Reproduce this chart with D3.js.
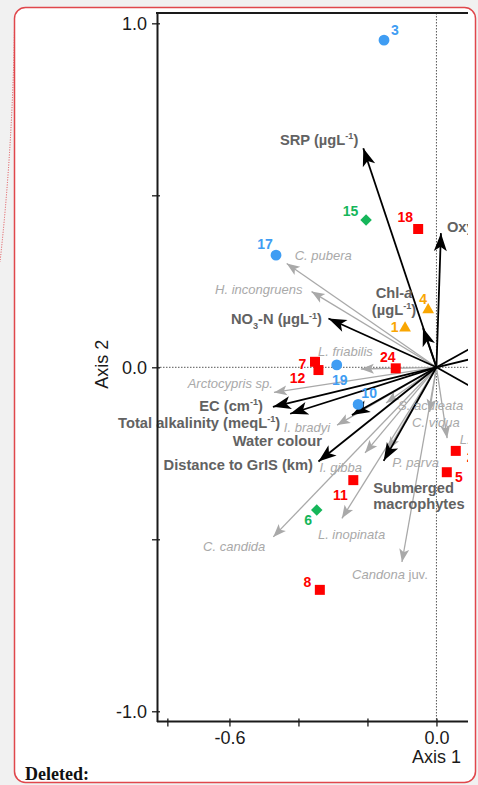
<!DOCTYPE html>
<html>
<head>
<meta charset="utf-8">
<script src="https://cdn.jsdelivr.net/npm/d3@7"></script>
<style>
  html, body { margin: 0; padding: 0; background: #f1f1f1; }
  svg { display: block; }
</style>
</head>
<body>
<div id="wrapper"></div>
<script>
// 1. Data (ordination scores)

// sites
const siteIds   = ["3", "15", "18", "17", "4", "1", "24", "7", "12", "19", "10", "11", "6", "8", "5", "2"];
const siteAxis1 = [-0.152, -0.204, -0.053, -0.465, -0.024, -0.091, -0.118, -0.352, -0.342, -0.289, -0.227, -0.241, -0.347, -0.338, 0.030, 0.056];
const siteAxis2 = [0.951, 0.428, 0.402, 0.326, 0.167, 0.114, -0.003, 0.016, -0.008, 0.007, -0.108, -0.328, -0.415, -0.647, -0.305, -0.243];
const siteGroup = ["B", "C", "A", "B", "D", "D", "A", "A", "A", "B", "B", "A", "C", "A", "A", "A"];

// environmental variables (black arrows)
const envNames = ["SRP (µgL^{-1})", "Oxygen", "Chl-*a*\n(µgL^{-1})", "NO_{3}-N (µgL^{-1})", "EC (cm^{-1})",
                  "Total alkalinity (meqL^{-1})", "Water colour", "Distance to GrIS (km)", "Submerged\nmacrophytes",
                  "", "", ""];
const envAxis1 = [-0.212, 0.013, -0.039, -0.313, -0.474, -0.424, -0.245, -0.342, -0.153, 0.25, 0.25, 0.25];
const envAxis2 = [0.637, 0.390, 0.114, 0.142, -0.115, -0.135, -0.139, -0.274, -0.272, 0.14, 0.06, -0.14];

// species (grey arrows)
const sppNames = ["*C. pubera*", "*H. incongruens*", "*L. friabilis*", "*Arctocypris sp.*", "*I. bradyi*",
                  "*S. aculeata*", "*C. vidua*", "*L.*", "*I. gibba*", "*P. parva*", "*C. candida*",
                  "*L. inopinata*", "*Candona* juv."];
const sppAxis1 = [-0.434, -0.362, -0.219, -0.471, -0.288, -0.146, -0.020, 0.031, -0.207, -0.140, -0.473, -0.274, -0.100];
const sppAxis2 = [0.302, 0.220, -0.005, -0.073, -0.168, -0.104, -0.130, -0.206, -0.249, -0.240, -0.493, -0.439, -0.566];

// ticks
const xTicks = [-0.78, -0.6, -0.4, -0.2, 0.0];
const xTickLabels = ["", "-0.6", "", "", "0.0"];
const yTicks = [1.0, 0.5, 0.0, -0.5, -1.0];
const yTickLabels = ["1.0", "", "0.0", "", "-1.0"];

// 2. Layout

const width = 478;
const height = 785;
const plot = { left: 157, right: 467.5, top: 13, bottom: 721.6, clipRight: 468 };
const font = "'Liberation Sans', Arial, Helvetica, sans-serif";

// label placement relative to arrow tip / point (px)
const envLabelPos = {
  "SRP (µgL^{-1})": { dx: -5, dy: -3, anchor: "end" },
  "Oxygen": { dx: 6, dy: -1, anchor: "start" },
  "Chl-*a*\n(µgL^{-1})": { dx: -29, dy: -30, anchor: "middle" },
  "NO_{3}-N (µgL^{-1})": { dx: -6.5, dy: 6, anchor: "end" },
  "EC (cm^{-1})": { dx: -10, dy: 4, anchor: "end" },
  "Total alkalinity (meqL^{-1})": { dx: -10, dy: 14.5, anchor: "end" },
  "Water colour": { dx: -30, dy: 31, anchor: "end" },
  "Distance to GrIS (km)": { dx: -5.5, dy: 8.5, anchor: "end" },
  "Submerged\nmacrophytes": { dx: -10.5, dy: 32, anchor: "start" }
};
const sppLabelPos = {
  "*C. pubera*": { dx: 8, dy: -3.5, anchor: "start" },
  "*H. incongruens*": { dx: -9, dy: 2.5, anchor: "end" },
  "*L. friabilis*": { dx: -15.5, dy: -13.5, anchor: "middle" },
  "*Arctocypris sp.*": { dx: -1, dy: -4, anchor: "end" },
  "*I. bradyi*": { dx: -7, dy: 6.5, anchor: "end" },
  "*S. aculeata*": { dx: 12, dy: 6.5, anchor: "start" },
  "*C. vidua*": { dx: -17.5, dy: 14.5, anchor: "start" },
  "*L.*": { dx: 12.7, dy: 6.2, anchor: "start" },
  "*I. gibba*": { dx: -3, dy: 19.5, anchor: "end" },
  "*P. parva*": { dx: 4, dy: 17.5, anchor: "start" },
  "*C. candida*": { dx: -8, dy: 14.5, anchor: "end" },
  "*L. inopinata*": { dx: -24, dy: 20.5, anchor: "start" },
  "*Candona* juv.": { dx: -12, dy: 17.5, anchor: "middle" }
};
const siteLabelPos = {
  "3": [11, -10], "15": [-15.5, -9.5], "18": [-13, -12.5], "17": [-11, -11], "4": [-5, -11],
  "1": [-10.5, -1.5], "24": [-8, -11.5], "7": [-12.5, 2.3], "12": [-21, 8], "19": [3, 15],
  "10": [11, -11], "11": [-13, 15], "6": [-8.5, 10], "8": [-12.5, -8], "5": [12, 5], "2": [15, 6]
};

const groupColor = { A: "#ff0000", B: "#3f9df3", C: "#15b65a", D: "#f9a602" };
const groupSymbol = { A: d3.symbolSquare, B: d3.symbolCircle, C: d3.symbolSquare, D: d3.symbolTriangle };
const groupSize = { A: 100, B: 92, C: 66, D: 60 };
const groupRotate = { A: 0, B: 0, C: 45, D: 0 };

// 3. Scales

const xScale = d3.scaleLinear().domain([-0.81, 0.09]).range([plot.left, plot.right]);
const yScale = d3.scaleLinear().domain([1.03, -1.03]).range([plot.top, plot.bottom]);

// 4. Canvas

const svg = d3.select("#wrapper").append("svg")
  .attr("width", width)
  .attr("height", height);

const defs = svg.append("defs");
defs.append("clipPath").attr("id", "clip")
  .append("rect").attr("x", 0).attr("y", 0).attr("width", plot.clipRight).attr("height", height);

function addHead(id, len, half, notch, color) {
  defs.append("marker")
    .attr("id", id)
    .attr("viewBox", `${-len - 2} ${-half - 2} ${len + 4} ${2 * half + 4}`)
    .attr("refX", 0).attr("refY", 0)
    .attr("markerUnits", "userSpaceOnUse")
    .attr("markerWidth", len + 4).attr("markerHeight", 2 * half + 4)
    .attr("orient", "auto")
    .append("path")
    .attr("d", `M0,0L${-len},${-half}L${-len + notch},0L${-len},${half}Z`)
    .attr("fill", color);
}
addHead("headBlack", 18, 6.5, 4.5, "#000");
addHead("headGrey", 13, 5, 3, "#a9a9a9");

// comment box
svg.append("path")
  .attr("d", "M14.5,27 Q12.5,150 0,262")
  .attr("fill", "none")
  .attr("stroke", "#e0474c")
  .attr("stroke-width", 1)
  .attr("stroke-dasharray", "1,1.5");

svg.append("rect")
  .attr("x", 14.5).attr("y", 7.5)
  .attr("width", 461).attr("height", 775)
  .attr("rx", 11)
  .attr("fill", "#fff")
  .attr("stroke", "#e0474c")
  .attr("stroke-width", 1.5);

svg.append("text")
  .attr("x", 25).attr("y", 780)
  .attr("font-family", "'Liberation Serif', 'Times New Roman', serif")
  .attr("font-weight", "bold")
  .attr("font-size", 18)
  .attr("fill", "#111")
  .text("Deleted:");

const bounds = svg.append("g").attr("clip-path", "url(#clip)");

// rich text: ^{sup} _{sub} *italic* and \n line breaks
function richText(textSel, str, size, lineGap) {
  const x = +textSel.attr("x");
  let shift = 0;
  str.split("\n").forEach((line, li) => {
    const parts = line.split(/(\^\{[^}]*\}|_\{[^}]*\}|\*[^*]*\*)/).filter(p => p !== "");
    parts.forEach((p, pi) => {
      let txt = p, target = 0, fs = size, italic = false;
      if (p.startsWith("^{")) { txt = p.slice(2, -1); target = -0.4 * size; fs = 0.62 * size; }
      else if (p.startsWith("_{")) { txt = p.slice(2, -1); target = 0.28 * size; fs = 0.62 * size; }
      else if (p.startsWith("*")) { txt = p.slice(1, -1); italic = true; }
      const t = textSel.append("tspan").text(txt).attr("font-size", fs);
      if (italic) t.attr("font-style", "italic");
      let dy = target - shift;
      if (pi === 0) {
        t.attr("x", x);
        if (li > 0) dy += lineGap;
      }
      if (dy !== 0) t.attr("dy", dy);
      shift = target;
    });
  });
}

// 5. Zero lines

bounds.append("line")
  .attr("x1", plot.left).attr("x2", plot.clipRight)
  .attr("y1", yScale(0)).attr("y2", yScale(0))
  .attr("stroke", "#444").attr("stroke-width", 0.9).attr("stroke-dasharray", "1.5,1.5");
bounds.append("line")
  .attr("x1", xScale(0)).attr("x2", xScale(0))
  .attr("y1", plot.top).attr("y2", plot.bottom)
  .attr("stroke", "#444").attr("stroke-width", 0.9).attr("stroke-dasharray", "1.5,1.5");

// 6. Species arrows

const spp = sppNames.map((name, i) => ({ name, x: sppAxis1[i], y: sppAxis2[i] }));

bounds.append("g").selectAll("line")
  .data(spp)
  .join("line")
  .attr("x1", xScale(0)).attr("y1", yScale(0))
  .attr("x2", d => xScale(d.x)).attr("y2", d => yScale(d.y))
  .attr("stroke", "#a9a9a9")
  .attr("stroke-width", 1.3)
  .attr("marker-end", "url(#headGrey)");

// 7. Environmental arrows

const env = envNames.map((name, i) => ({ name, x: envAxis1[i], y: envAxis2[i] }));

bounds.append("g").selectAll("line")
  .data(env)
  .join("line")
  .attr("x1", xScale(0)).attr("y1", yScale(0))
  .attr("x2", d => xScale(d.x)).attr("y2", d => yScale(d.y))
  .attr("stroke", "#000")
  .attr("stroke-width", 1.8)
  .attr("marker-end", "url(#headBlack)");

// 8. Sites

const sites = siteIds.map((id, i) => ({ id, x: siteAxis1[i], y: siteAxis2[i], group: siteGroup[i] }));

bounds.append("g").selectAll("path")
  .data(sites)
  .join("path")
  .attr("transform", d => `translate(${xScale(d.x)},${yScale(d.y)}) rotate(${groupRotate[d.group]})`)
  .attr("d", d => d3.symbol().type(groupSymbol[d.group]).size(groupSize[d.group])())
  .attr("fill", d => groupColor[d.group]);

// 9. Labels

const sppLabels = bounds.append("g")
  .attr("font-family", font)
  .attr("fill", "#a9a9a9");
spp.forEach(d => {
  const p = sppLabelPos[d.name];
  const t = sppLabels.append("text")
    .attr("x", xScale(d.x) + p.dx)
    .attr("y", yScale(d.y) + p.dy)
    .attr("text-anchor", p.anchor);
  richText(t, d.name, 13, 15);
});

const envLabels = bounds.append("g")
  .attr("font-family", font)
  .attr("font-weight", "bold")
  .attr("fill", "#626262");
env.filter(d => d.name !== "").forEach(d => {
  const p = envLabelPos[d.name];
  const t = envLabels.append("text")
    .attr("x", xScale(d.x) + p.dx)
    .attr("y", yScale(d.y) + p.dy)
    .attr("text-anchor", p.anchor);
  richText(t, d.name, 14.7, 16.5);
});

bounds.append("g")
  .attr("font-family", font)
  .attr("font-weight", "bold")
  .attr("font-size", 14)
  .attr("text-anchor", "middle")
  .selectAll("text")
  .data(sites)
  .join("text")
  .attr("x", d => xScale(d.x) + siteLabelPos[d.id][0])
  .attr("y", d => yScale(d.y) + siteLabelPos[d.id][1] + 5)
  .attr("fill", d => groupColor[d.group])
  .text(d => d.id);

// 10. Axes and frame

const yAxisGenerator = d3.axisLeft(yScale)
  .tickValues(yTicks)
  .tickFormat((d, i) => yTickLabels[i])
  .tickSize(5).tickPadding(5).tickSizeOuter(0);

const xAxisGenerator = d3.axisBottom(xScale)
  .tickValues(xTicks)
  .tickFormat((d, i) => xTickLabels[i])
  .tickSize(5).tickPadding(5).tickSizeOuter(0);

const yAxis = svg.append("g")
  .attr("transform", `translate(${plot.left},0)`)
  .call(yAxisGenerator);
yAxis.selectAll(".tick line").attr("x1", 3);

const xAxis = svg.append("g")
  .attr("transform", `translate(0,${plot.bottom})`)
  .call(xAxisGenerator);
xAxis.selectAll(".tick line").attr("y1", -3);

[xAxis, yAxis].forEach(a => {
  a.attr("font-family", font).attr("font-size", 18);
  a.select(".domain").attr("stroke", "#1a1a1a").attr("stroke-width", 2);
  a.selectAll(".tick line").attr("stroke", "#1a1a1a").attr("stroke-width", 1.3);
  a.selectAll(".tick text").attr("fill", "#1a1a1a");
});
xAxis.select(".domain").attr("d", `M${plot.left},0H${plot.clipRight}`);

svg.append("line")
  .attr("x1", plot.left - 1).attr("x2", plot.clipRight)
  .attr("y1", plot.top).attr("y2", plot.top)
  .attr("stroke", "#1a1a1a").attr("stroke-width", 2);

svg.append("text")
  .attr("transform", `translate(108,${yScale(0) - 3}) rotate(-90)`)
  .attr("text-anchor", "middle")
  .attr("font-family", font)
  .attr("font-size", 18)
  .attr("fill", "#1a1a1a")
  .text("Axis 2");

svg.append("text")
  .attr("x", xScale(0)).attr("y", 763)
  .attr("text-anchor", "middle")
  .attr("font-family", font)
  .attr("font-size", 18)
  .attr("fill", "#1a1a1a")
  .text("Axis 1");
</script>
</body>
</html>
